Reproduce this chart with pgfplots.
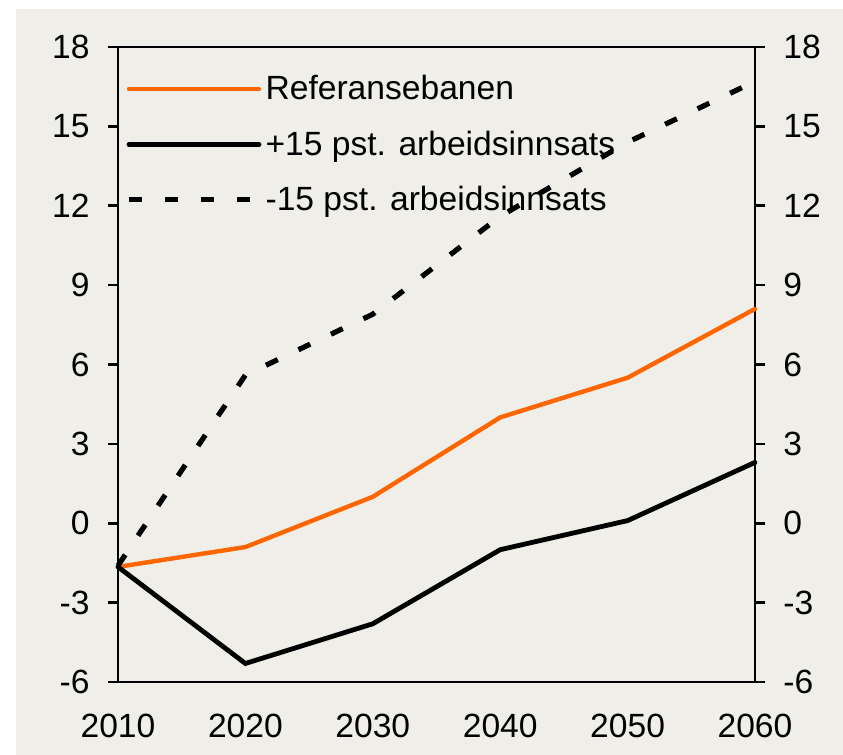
\documentclass[border=0pt]{standalone}
\usepackage{pgfplots}
\pgfplotsset{compat=1.18}
\usepackage{fontspec}
\setmainfont{Liberation Sans}
\definecolor{bg}{HTML}{EFEEE8}
\definecolor{ora}{HTML}{FF6600}
\pgfplotstableread{
year ref plus minus
2010 -1.65 -1.65 -1.6
2020 -0.9 -5.3 5.6
2030 1.0 -3.8 7.9
2040 4.0 -1.0 11.6
2050 5.5 0.1 14.4
2060 8.1 2.3 16.7
}\data
\begin{document}
\begin{tikzpicture}
\fill[white] (-59pt,-36.5pt) rectangle (362.5pt,341pt);
\fill[bg] (-51pt,-36.5pt) rectangle (362.5pt,336.5pt);
\useasboundingbox (-59pt,-36.5pt) rectangle (362.5pt,341pt);
\pgfplotsset{
  base/.style={
    at={(0pt,0pt)}, anchor=south west,
    scale only axis, width=318.5pt, height=317.5pt,
    xmin=2010, xmax=2060, ymin=-6, ymax=18,
    ytick={-6,-3,...,18},
    tick align=outside, major tick length=5pt,
    axis line style={line width=1.3pt},
    every tick/.style={line width=1.3pt, black},
    font=\fontsize{16.8}{19}\selectfont,
    /pgf/number format/assume math mode=true,
    /pgf/number format/set thousands separator={},
    yticklabel style={inner sep=0pt},
  }
}
\begin{axis}[base,
  axis y line*=right, axis x line=none,
  yticklabel style={xshift=9pt},
]
\end{axis}
\begin{axis}[base,
  axis y line*=left,
  axis x line*=box,
  xtick={2010,2020,...,2060},
  x tick style={draw=none},
  xticklabel style={yshift=-7.5pt},
  yticklabel style={xshift=-9pt},
  clip=false,
  legend cell align=left,
  legend style={draw=none, fill=none, at={(axis description cs:0,1)}, anchor=north west,
    xshift=1pt, yshift=-10pt, row sep=10pt, font=\fontsize{16.8}{19}\selectfont},
  legend image code/.code={\draw[#1] (0pt,0pt) -- (65pt,0pt);},
]
\addplot[ora, line width=2.2pt, line cap=round] table[x=year,y=ref]{\data};
\addlegendentry{Referansebanen}
\addplot[black, line width=2.4pt, line cap=round] table[x=year,y=plus]{\data};
\addlegendentry{+15 pst. arbeidsinnsats}
\addplot[black, line width=2.6pt, dash pattern=on 6.5pt off 11.5pt] table[x=year,y=minus]{\data};
\addlegendentry{-15 pst. arbeidsinnsats}
\draw[line width=1.3pt] (axis cs:2010,18) -- (axis cs:2060,18);
\draw[line width=1.3pt] (axis cs:2010,-6) -- (axis cs:2060,-6);
\end{axis}
\end{tikzpicture}
\end{document}
